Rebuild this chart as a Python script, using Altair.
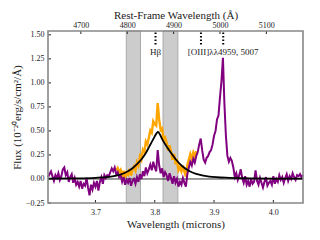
import altair as alt
import pandas as pd

# ---------------- data ----------------
ONE_PLUS_Z = 7.82
wl_start, wl_step = 3.620, 0.0025

purple_flux = [
    0.02, 0.05, 0.08, 0.03, -0.02, 0.04, 0.01, 0.06, -0.01, 0.03,
    0.10, 0.12, 0.04, 0.07, -0.03, 0.02, 0.05, -0.04, 0.01, -0.06,
    -0.03, -0.08, -0.02, -0.10, -0.05, -0.07, 0.01, -0.09, -0.17, -0.06,
    -0.11, -0.04, -0.08, -0.02, -0.12, -0.03, 0.02, -0.05, 0.04, 0.01,
    0.04, 0.03, 0.07, 0.11, 0.08, 0.12, 0.05, 0.07, 0.02, 0.04,
    -0.03, 0.02, -0.06, -0.01, -0.04, 0.01, -0.07, -0.02, 0.00, -0.05,
    0.02, -0.03, 0.05, 0.00, 0.08, 0.03, 0.12, 0.06, 0.10, 0.15,
    0.09, 0.18, 0.12, 0.08, 0.30, 0.14, 0.06, 0.11, 0.02, 0.07,
    0.04, -0.02, 0.06, 0.01, -0.05, 0.03, -0.04, 0.00, -0.08, -0.03,
    -0.06, 0.01, -0.04, -0.08, 0.05, 0.12, 0.18, 0.14, 0.21, 0.17,
    0.24, 0.28, 0.36, 0.42, 0.30, 0.20, 0.17, 0.22, 0.24, 0.28,
    0.30, 0.36, 0.45, 0.50, 0.62, 0.66, 0.85, 1.02, 1.26, 0.78,
    0.45, 0.24, 0.18, 0.22, 0.19, 0.12, 0.02, 0.06, -0.01, 0.04,
    0.10, 0.01, -0.04, 0.03, -0.06, -0.02, -0.08, 0.00, -0.05, -0.03,
    0.09, -0.02, -0.06, 0.01, -0.04, -0.09, -0.03, 0.02, -0.07, -0.04,
    -0.02, -0.06, 0.03, -0.05, 0.00, -0.03, 0.04, -0.01, 0.02, -0.04,
    0.01, 0.05, -0.02, 0.03, 0.00, 0.06, 0.02, -0.01, 0.04, 0.03, 0.05, 0.02, 0.04,
]

orange_start = 3.735
orange_flux = [
    0.09, 0.115, 0.07, 0.095,
    0.03, 0.085, 0.01, 0.065, 0.045, 0.105, 0.035, 0.095, 0.13, 0.09,
    0.175, 0.14, 0.235, 0.20, 0.305, 0.28, 0.39, 0.36, 0.43, 0.505,
    0.48, 0.60, 0.57, 0.555, 0.79, 0.615, 0.51, 0.525, 0.41, 0.43,
    0.38, 0.295, 0.35, 0.28, 0.20, 0.26, 0.17, 0.19, 0.09, 0.125,
    0.08, 0.14, 0.075, 0.025, 0.145, 0.205, 0.26, 0.21, 0.275, 0.23, 0.29,
]

model_wl = [3.62, 3.66, 3.70, 3.72, 3.735, 3.75, 3.763, 3.777, 3.785, 3.791,
            3.798, 3.803, 3.8055, 3.809, 3.813, 3.822, 3.83, 3.836, 3.847,
            3.859, 3.87, 3.892, 3.926, 3.96, 4.0, 4.05]
model_flux = [0.003, 0.006, 0.012, 0.02, 0.035, 0.065, 0.115, 0.2, 0.27, 0.34,
              0.42, 0.475, 0.49, 0.46, 0.41, 0.32, 0.25, 0.2, 0.13,
              0.08, 0.053, 0.025, 0.012, 0.007, 0.004, 0.003]

band_lo = [3.752, 3.814]
band_hi = [3.776, 3.839]

line_rest = [4861, 4959, 5007]
label_text = ["H\u03b2", "[OIII]\u03bb\u03bb4959, 5007"]
label_rest = [4861, 5007]

x_ticks = [3.7, 3.8, 3.9, 4.0]
y_ticks = [-0.25, 0.0, 0.25, 0.5, 0.75, 1.0, 1.25, 1.5]
rest_ticks = [4700, 4800, 4900, 5000, 5100]

X_DOMAIN = [3.62, 4.05]
Y_DOMAIN = [-0.25, 1.54]
LINE_Y = [1.40, 1.54]
LABEL_Y = 1.32

# ---------------- tables ----------------
spec_df = pd.DataFrame({"wl": [wl_start + i * wl_step for i in range(len(purple_flux))],
                        "flux": purple_flux})
orange_df = pd.DataFrame({"wl": [orange_start + i * wl_step for i in range(len(orange_flux))],
                          "flux": orange_flux})
model_df = pd.DataFrame({"wl": model_wl, "flux": model_flux})
band_df = pd.DataFrame({"lo": band_lo, "hi": band_hi})
lines_df = pd.DataFrame({"wl": [r * ONE_PLUS_Z / 1e4 for r in line_rest],
                         "y1": LINE_Y[0], "y2": LINE_Y[1]})
labels_df = pd.DataFrame({"wl": [r * ONE_PLUS_Z / 1e4 for r in label_rest],
                          "y": LABEL_Y, "t": label_text})
xt_df = pd.DataFrame({"v": x_ticks})
yt_df = pd.DataFrame({"v": y_ticks})
rt_df = pd.DataFrame({"v": [r * ONE_PLUS_Z / 1e4 for r in rest_ticks]})

FONT = "Liberation Serif"
TXT = "#222222"
W, H = 255, 172

xs = alt.Scale(domain=X_DOMAIN, nice=False, zero=False)
ys = alt.Scale(domain=Y_DOMAIN, nice=False, zero=False)

common = dict(grid=False, ticks=False, tickSize=0, domain=False,
              labelColor=TXT, titleColor=TXT, labelFont=FONT, titleFont=FONT,
              labelFontSize=8, titleFontSize=11, titleFontWeight="normal")

bottom_axis = alt.Axis(values=x_ticks, format=".1f", title="Wavelength (microns)",
                       labelPadding=5, titlePadding=2, **common)
top_axis = alt.Axis(orient="top", values=[r * ONE_PLUS_Z / 1e4 for r in rest_ticks],
                    labelExpr="format(datum.value*10000/%s, '.0f')" % ONE_PLUS_Z,
                    title="Rest-Frame Wavelength (\u00c5)",
                    labelPadding=2, titlePadding=1, **common)
left_axis = alt.Axis(values=y_ticks, format=".2f",
                     title="Flux (10\u207b\u00b2\u2070erg/s/cm\u00b2/\u00c5)",
                     labelPadding=4, titlePadding=3, **common)

bands = alt.Chart(band_df).mark_rect(color="#cccccc", stroke="#aaaaaa", strokeWidth=1).encode(
    x=alt.X("lo:Q", scale=xs, axis=bottom_axis), x2="hi:Q")

zero = alt.Chart(pd.DataFrame({"v": [0.0]})).mark_rule(color="black", strokeWidth=0.8).encode(
    y=alt.Y("v:Q", scale=ys, axis=left_axis))

orange = alt.Chart(orange_df).mark_line(color="#FFA500", strokeWidth=2.4).encode(
    x=alt.X("wl:Q", scale=xs, axis=None), y=alt.Y("flux:Q", scale=ys, axis=None))

purple = alt.Chart(spec_df).mark_line(color="#800080", strokeWidth=2.0).encode(
    x=alt.X("wl:Q", scale=xs, axis=None), y=alt.Y("flux:Q", scale=ys, axis=None))

model = alt.Chart(model_df).mark_line(color="black", strokeWidth=1.8,
                                      interpolate="monotone").encode(
    x=alt.X("wl:Q", scale=xs, axis=None), y=alt.Y("flux:Q", scale=ys, axis=None))

dotted = alt.Chart(lines_df).mark_rule(color="black", strokeWidth=2,
                                       strokeDash=[1.5, 2]).encode(
    x=alt.X("wl:Q", scale=xs, axis=None), y=alt.Y("y1:Q", scale=ys, axis=None), y2="y2:Q")

labels = alt.Chart(labels_df).mark_text(font=FONT, fontSize=9, color=TXT,
                                        align="center", baseline="middle").encode(
    x=alt.X("wl:Q", scale=xs, axis=None), y=alt.Y("y:Q", scale=ys, axis=None), text="t:N")

top = alt.Chart(rt_df).mark_rule(color="#222222", strokeWidth=1).encode(
    x=alt.X("v:Q", scale=xs, axis=top_axis), y=alt.value(0), y2=alt.value(3))

bticks = alt.Chart(xt_df).mark_rule(color="#222222", strokeWidth=1).encode(
    x=alt.X("v:Q", scale=xs, axis=None), y=alt.value(H), y2=alt.value(H - 3))

lticks = alt.Chart(yt_df).mark_rule(color="#222222", strokeWidth=1).encode(
    y=alt.Y("v:Q", scale=ys, axis=None), x=alt.value(0), x2=alt.value(3))

frame = alt.Chart(pd.DataFrame({"v": [0]})).mark_rect(
    fill=None, stroke="#888888", strokeWidth=1.6).encode(
    x=alt.value(0), x2=alt.value(W), y=alt.value(0), y2=alt.value(H))

chart = alt.layer(bands, zero, orange, purple, model, dotted, labels, top, bticks, lticks,
                  frame).resolve_axis(
    x="independent", y="independent"
).properties(
    width=W, height=H,
    autosize=alt.AutoSizeParams(type="none"),
    padding={"left": 40, "top": 23, "right": 9, "bottom": 29},
).configure_view(
    stroke=None
)

chart.save("out.html", embed_options={"renderer": "svg", "actions": False})
